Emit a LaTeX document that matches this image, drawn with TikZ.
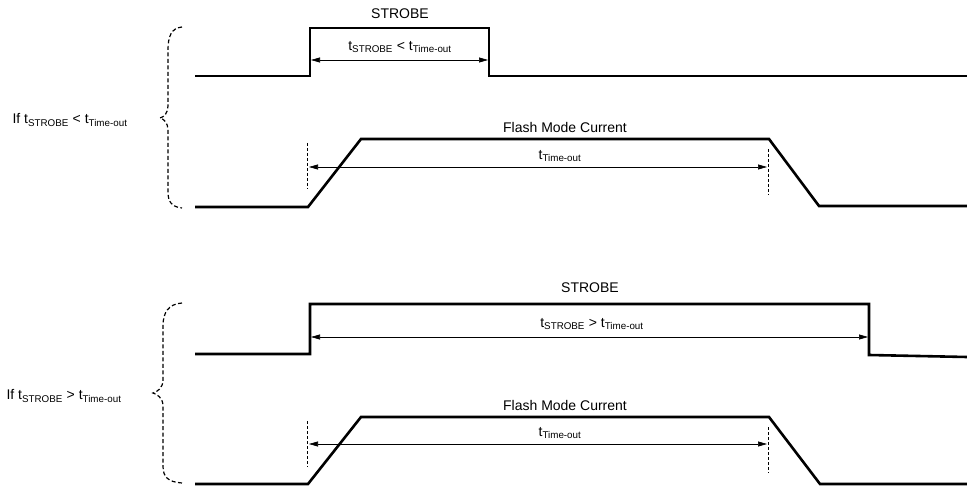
\documentclass[tikz,border=0pt]{standalone}
\usepackage{fontspec}
\setmainfont{Liberation Sans}
\usetikzlibrary{arrows.meta}

\begin{document}
\begin{tikzpicture}[x=1pt,y=-1pt,>={Triangle[length=9pt,width=5pt]},
  every node/.style={font=\fontsize{14}{16}\selectfont,inner sep=1pt},
  signal/.style={line width=2.6pt,line join=miter},
  span/.style={<->,line width=0.6pt},
  marker/.style={dash pattern=on 3pt off 2pt,line width=0.9pt},
  bracket/.style={dash pattern=on 4pt off 2.5pt,line width=1.2pt}]
\useasboundingbox (0,0) rectangle (967,489);

% case 1: strobe shorter than time-out
\node (caseA) at (70,120) {If t\textsubscript{STROBE} < t\textsubscript{Time-out}};
\draw[bracket] (182,27) .. controls (171,28) and (168,37) .. (168,50) -- (168,106)
  .. controls (168,113) and (164,117) .. (160,118) .. controls (164,119) and (168,123) .. (168,130)
  -- (168,192) .. controls (168,202) and (172,207) .. (182,208);

\draw[signal] (195,76) -- (310,76) -- (310,28) -- (489,28) -- (489,76) -- (967,76);
\node (strobeA) at (400,14) {STROBE};
\coordinate (sAl) at (311,60);
\coordinate (sAr) at (488,60);
\draw[span] (sAl) -- (sAr);
\node (tsA) at (400,47) {t\textsubscript{STROBE} < t\textsubscript{Time-out}};

\draw[signal] (195,207) -- (308,207) -- (361,139) -- (769,139) -- (819,206) -- (967,206);
\node (flashA) at (565,127) {Flash Mode Current};
\coordinate (mAl) at (307,143);
\coordinate (mAr) at (768,149);
\draw[marker] (mAl) -- ++(0,46);
\draw[marker] (mAr) -- ++(0,46);
\coordinate (fAl) at (309,167);
\coordinate (fAr) at (767,167);
\draw[span] (fAl) -- (fAr);
\node (toA) at (560,156) {t\textsubscript{Time-out}};

% case 2: strobe longer than time-out
\node (caseB) at (64,396) {If t\textsubscript{STROBE} > t\textsubscript{Time-out}};
\draw[bracket] (182,303) .. controls (168,304) and (163,313) .. (163,326) -- (163,380)
  .. controls (163,388) and (157,392) .. (153,393) .. controls (157,394) and (163,398) .. (163,406)
  -- (163,466) .. controls (163,477) and (168,482) .. (182,483);

\draw[signal] (195,354) -- (310,354) -- (310,304) -- (869,304) -- (869,355) -- (967,357);
\node (strobeB) at (590,288) {STROBE};
\coordinate (sBl) at (311,337);
\coordinate (sBr) at (868,337);
\draw[span] (sBl) -- (sBr);
\node (tsB) at (592,324) {t\textsubscript{STROBE} > t\textsubscript{Time-out}};

\draw[signal] (195,484) -- (308,484) -- (361,417) -- (769,417) -- (820,484) -- (967,484);
\node (flashB) at (565,405) {Flash Mode Current};
\coordinate (mBl) at (307,421);
\coordinate (mBr) at (768,427);
\draw[marker] (mBl) -- ++(0,46);
\draw[marker] (mBr) -- ++(0,46);
\coordinate (fBl) at (309,444);
\coordinate (fBr) at (767,444);
\draw[span] (fBl) -- (fBr);
\node (toB) at (560,433) {t\textsubscript{Time-out}};
\end{tikzpicture}
\end{document}
